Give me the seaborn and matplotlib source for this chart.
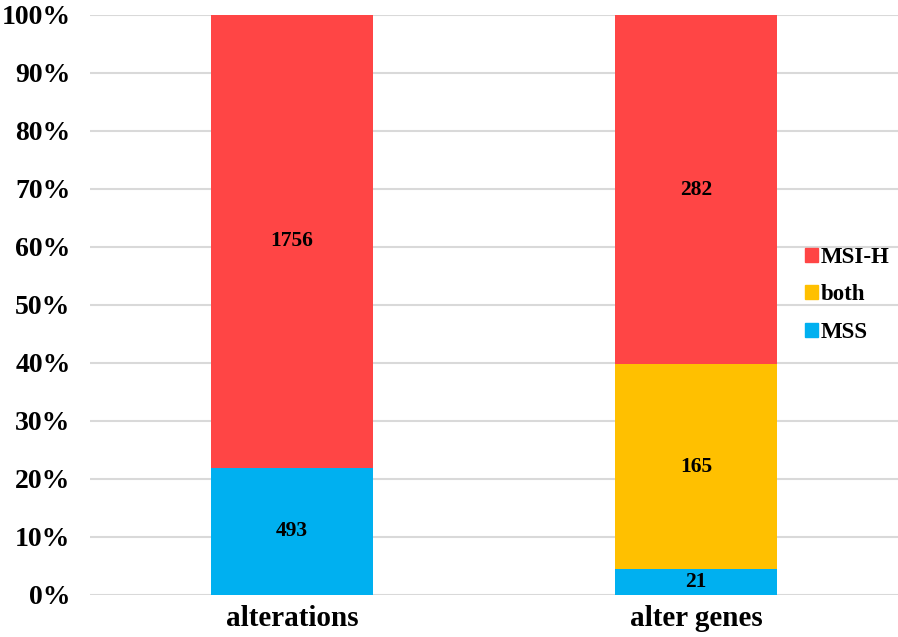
import numpy as np
import pandas as pd
import matplotlib
matplotlib.use("Agg")
import matplotlib.pyplot as plt
import seaborn as sns
from matplotlib.patches import Patch

categorias = ["alterations", "alter genes"]
mss = [493, 21]
both = [0, 165]
msi_h = [1756, 282]

cores = {"MSI-H": "#FF4545", "both": "#FFC000", "MSS": "#00B0F0"}

sns.set_theme(style="white")
plt.rcParams['font.family'] = ['Liberation Serif', 'DejaVu Serif']
plt.rcParams['font.weight'] = 'bold'
plt.rcParams['text.color'] = 'black'
plt.rcParams['xtick.color'] = 'black'
plt.rcParams['ytick.color'] = 'black'

total = np.array(mss) + np.array(both) + np.array(msi_h)
p_mss = np.array(mss) / total * 100
p_both = np.array(both) / total * 100
p_msi = np.array(msi_h) / total * 100

df = pd.DataFrame({
    "cat": categorias,
    "MSS": p_mss,
    "both": p_mss + p_both,
    "MSI-H": p_mss + p_both + p_msi,
})

fig = plt.figure(figsize=(8.98, 6.37), dpi=100)
ax = fig.add_axes([90 / 898, 1 - 595 / 637, 808 / 898, 580 / 637])

# camadas empilhadas (cumulativas), de cima para baixo
for serie in ["MSI-H", "both", "MSS"]:
    sns.barplot(data=df, x="cat", y=serie, color=cores[serie], width=0.4,
                saturation=1, linewidth=0, ax=ax, zorder=3)

# rótulos dos segmentos
bases = [np.zeros(2), p_mss, p_mss + p_both]
alturas = [p_mss, p_both, p_msi]
valores = [mss, both, msi_h]
for base, alt, val in zip(bases, alturas, valores):
    for i in range(len(categorias)):
        if val[i] > 0:
            ax.text(i, base[i] + alt[i] / 2, str(val[i]), ha="center", va="center",
                    fontsize=15.5, fontweight="bold", color="black", zorder=4)

ax.set_xlim(-0.5, 1.5)
ax.set_ylim(0, 100)
ax.set_yticks(np.arange(0, 101, 10))
ax.set_yticklabels([f"{v}%" for v in range(0, 101, 10)], fontsize=20, fontweight="bold")
ax.set_xticks(range(len(categorias)))
ax.set_xticklabels(categorias, fontsize=21, fontweight="bold")
ax.set_xlabel("")
ax.set_ylabel("")
ax.grid(axis="y", color="#D9D9D9", linewidth=1.5, zorder=0)
ax.set_axisbelow(True)
for s in ax.spines.values():
    s.set_visible(False)
ax.tick_params(axis="y", length=0, pad=14)
ax.tick_params(axis="x", length=0, pad=7)

handles = [Patch(color=cores[k]) for k in ["MSI-H", "both", "MSS"]]
fig.legend(handles, ["MSI-H", "both", "MSS"], loc="center left",
           bbox_to_anchor=(805 / 898, 1 - 295 / 637), frameon=False,
           prop={"size": 16.5, "weight": "bold"}, handlelength=0.55, handleheight=0.55,
           handletextpad=0.15, labelspacing=0.72, borderpad=0, borderaxespad=0)

plt.savefig("out.png", dpi=100)
